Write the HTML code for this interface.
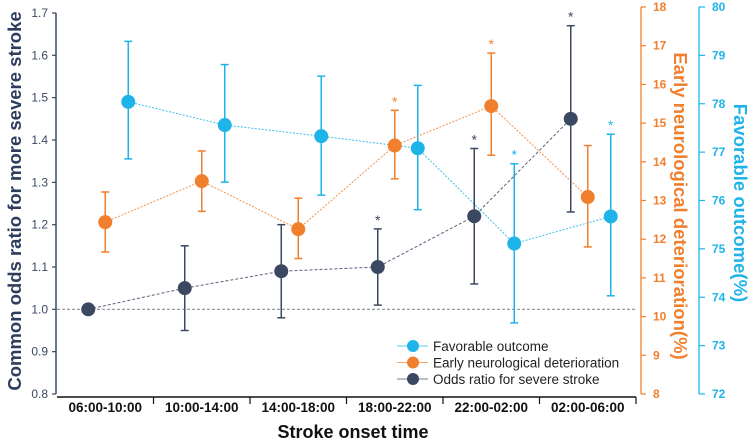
<!DOCTYPE html>
<html><head><meta charset="utf-8"><style>
body{margin:0;background:#fff}
svg{display:block;font-family:"Liberation Sans",sans-serif}
</style></head><body>
<svg id="c" width="750" height="441"></svg>
<script>
const categories=["06:00-10:00","10:00-14:00","14:00-18:00","18:00-22:00","22:00-02:00","02:00-06:00"];
const orVal=[1.0,1.05,1.09,1.10,1.22,1.45];
const orLo=[null,0.95,0.98,1.01,1.06,1.23];
const orHi=[null,1.15,1.20,1.19,1.38,1.67];
const orStar=[0,0,0,1,1,1];
const endVal=[12.44,13.5,12.26,14.42,15.44,13.09];
const endLo=[11.67,12.72,11.5,13.56,14.17,11.8];
const endHi=[13.22,14.28,13.06,15.33,16.81,14.42];
const endStar=[0,0,0,1,1,0];
const foVal=[78.04,77.56,77.33,77.08,75.11,75.67];
const foLo=[76.86,76.38,76.11,75.81,73.47,74.03];
const foHi=[79.29,78.81,78.57,78.38,76.76,77.37];
const foStar=[0,0,0,0,1,1];
const leftTicks=[0.8,0.9,1.0,1.1,1.2,1.3,1.4,1.5,1.6,1.7];
const endTicks=[8,9,10,11,12,13,14,15,16,17,18];
const foTicks=[72,73,74,75,76,77,78,79,80];

const svg=document.getElementById('c');const NS="http://www.w3.org/2000/svg";
function el(t,a,p){const e=document.createElementNS(NS,t);for(const k in a)e.setAttribute(k,a[k]);(p||svg).appendChild(e);return e;}
const yTop=13,yBot=394;
const yL=v=>yBot-(v-0.8)/0.9*(yBot-yTop);
const yE=v=>yBot-(v-8)/10*(yBot-7);
const yF=v=>yBot-(v-72)/8*(yBot-7);
const x0=57,cw=96.5;
const xc=i=>x0+cw*(i+0.5);
const DK="#3b4862",OR="#f07f2e",BL="#1eb4ea";

let e=el('line',{x1:56,y1:yTop,x2:56,y2:yBot,stroke:DK,'stroke-width':1.5});

leftTicks.forEach(v=>{el('line',{x1:52,x2:56,y1:yL(v),y2:yL(v),stroke:DK,'stroke-width':1.2});
 const t=el('text',{x:48,y:yL(v)+4,'text-anchor':'end','font-size':12,fill:DK});t.textContent=v.toFixed(1);
 });
e=el('line',{x1:641,y1:7,x2:641,y2:yBot,stroke:OR,'stroke-width':1.3});

endTicks.forEach(v=>{el('line',{x1:641,x2:646,y1:yE(v),y2:yE(v),stroke:OR,'stroke-width':1.2});
 const t=el('text',{x:653,y:yE(v)+4,'font-size':12,'font-weight':'bold',fill:OR});t.textContent=v;
 });
e=el('line',{x1:699,y1:7,x2:699,y2:yBot,stroke:BL,'stroke-width':1.3});

foTicks.forEach(v=>{el('line',{x1:699,x2:705,y1:yF(v),y2:yF(v),stroke:BL,'stroke-width':1.2});
 const t=el('text',{x:712,y:yF(v)+4,'font-size':12,'font-weight':'bold',fill:BL});t.textContent=v;
 });
e=el('line',{x1:57,y1:397,x2:636,y2:397,stroke:'#111','stroke-width':1.5});

categories.forEach((c,i)=>{el('line',{x1:x0+cw*(i+1),x2:x0+cw*(i+1),y1:397,y2:404,stroke:'#111','stroke-width':1.2});
 const t=el('text',{x:xc(i),y:412,'text-anchor':'middle','font-size':13.5,'font-weight':'bold',fill:'#111'});t.textContent=c;
 });
e=el('line',{x1:57,x2:636,y1:yL(1),y2:yL(1),stroke:'#8a8f99','stroke-width':1.2,'stroke-dasharray':'3,2'});

let t=el('text',{transform:'translate(21,201) rotate(-90)','text-anchor':'middle','font-size':18.5,'font-weight':'bold',fill:'#2d3e5c'});t.textContent="Common odds ratio for more severe stroke";

t=el('text',{transform:'translate(674,206) rotate(90)','text-anchor':'middle','font-size':18.5,'font-weight':'bold',fill:OR});t.textContent="Early neurological deterioration(%)";

t=el('text',{transform:'translate(734,203) rotate(90)','text-anchor':'middle','font-size':18.5,'font-weight':'bold',fill:BL});t.textContent="Favorable outcome(%)";

t=el('text',{x:353,y:438,'text-anchor':'middle','font-size':18,'font-weight':'bold',fill:'#111'});t.textContent="Stroke onset time";


function series(name,vals,lo,hi,star,ys,off,col,dash){
 const g=el('g',{});
 const pts=vals.map((v,i)=>(xc(i)+off)+','+ys(v)).join(' ');
 el('polyline',{points:pts,fill:'none',stroke:col,'stroke-width':1,'stroke-dasharray':dash,opacity:0.85},g);
 vals.forEach((v,i)=>{const x=xc(i)+off;
  if(lo[i]!=null){const eb=el('g',{},g);
   el('line',{x1:x,x2:x,y1:ys(lo[i]),y2:ys(hi[i]),stroke:col,'stroke-width':1.5},eb);
   el('line',{x1:x-4,x2:x+4,y1:ys(lo[i]),y2:ys(lo[i]),stroke:col,'stroke-width':1.5},eb);
   el('line',{x1:x-4,x2:x+4,y1:ys(hi[i]),y2:ys(hi[i]),stroke:col,'stroke-width':1.5},eb);}
  const c=el('circle',{cx:x,cy:ys(v),r:7,fill:col},g);
  
  if(star[i]){const s=el('text',{x:x,y:ys(hi[i])-4,'text-anchor':'middle','font-size':14,fill:col},g);s.textContent="*";
   }
 });
}
series('favorable-outcome',foVal,foLo,foHi,foStar,yF,23,BL,'2,1.5');
series('end',endVal,endLo,endHi,endStar,yE,0,OR,'2,1.5');
series('odds-ratio',orVal,orLo,orHi,orStar,yL,-17,DK,'3,2');

const leg=el('g',{});
[["Favorable outcome",BL],["Early neurological deterioration",OR],["Odds ratio for severe stroke",DK]].forEach((d,i)=>{
 const y=346+i*16.5;const g=el('g',{},leg);
 el('line',{x1:397,x2:428,y1:y,y2:y,stroke:d[1],'stroke-width':1,opacity:0.7},g);
 el('circle',{cx:413,cy:y,r:6,fill:d[1]},g);
 const tx=el('text',{x:433,y:y+5,'font-size':13.5,fill:'#222'},g);tx.textContent=d[0];});
</script>
</body></html>
